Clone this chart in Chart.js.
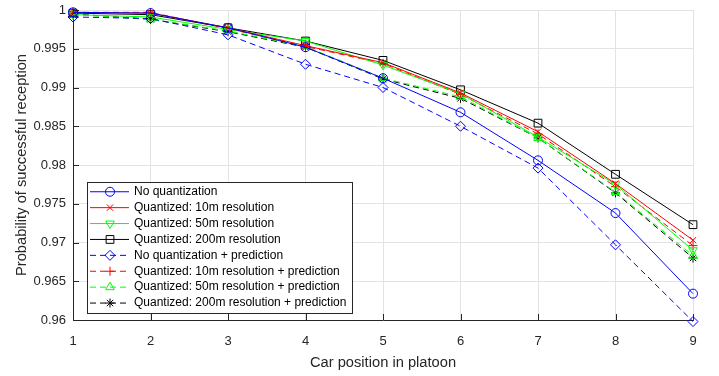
<!DOCTYPE html>
<html>
<head>
<meta charset="utf-8">
<script src="https://cdn.jsdelivr.net/npm/chart.js@4.4.1/dist/chart.umd.min.js"></script>
<style>
  html, body { margin: 0; padding: 0; background: #fff; }
  #wrap { width: 719px; height: 376px; }
</style>
</head>
<body>
<div id="wrap"><canvas id="lineChart"></canvas></div>
<script>
// car position in platoon
var positions = [1, 2, 3, 4, 5, 6, 7, 8, 9];

// probability of successful reception
var noQuant      = [0.9997, 0.9996, 0.9977, 0.9952, 0.9912, 0.9868, 0.9806, 0.9738, 0.9634];
var quant10      = [0.9997, 0.9996, 0.9977, 0.9954, 0.9932, 0.9893, 0.9843, 0.9776, 0.9703];
var quant50      = [0.9994, 0.9991, 0.9975, 0.9960, 0.9929, 0.9892, 0.9836, 0.9775, 0.9690];
var quant200     = [0.9996, 0.9994, 0.9977, 0.9960, 0.9935, 0.9897, 0.9854, 0.9788, 0.9723];
var noQuantPred  = [0.9991, 0.9989, 0.9968, 0.9930, 0.9900, 0.9850, 0.9796, 0.9697, 0.9598];
var quant10Pred  = [0.9997, 0.9997, 0.9976, 0.9953, 0.9931, 0.9891, 0.9840, 0.9772, 0.9696];
var quant50Pred  = [0.9994, 0.9988, 0.9973, 0.9953, 0.9912, 0.9888, 0.9835, 0.9765, 0.9683];
var quant200Pred = [0.9995, 0.9988, 0.9972, 0.9952, 0.9911, 0.9886, 0.9835, 0.9764, 0.9680];

var xTicks = [1, 2, 3, 4, 5, 6, 7, 8, 9];
var yTicks = [0.96, 0.965, 0.97, 0.975, 0.98, 0.985, 0.99, 0.995, 1];

var FONT = '"Liberation Sans", Arial, Helvetica, sans-serif';
var AXIS = '#262626';

function pts(values){
    return values.map(function(v, i){ return {x: positions[i], y: v}; });
}

function series(label, values, color, style, radius, dashed, rotation){
    return {
        label: label,
        data: pts(values),
        borderColor: color,
        backgroundColor: 'rgba(0,0,0,0)',
        borderWidth: 1,
        borderDash: dashed ? [6, 4] : [],
        pointStyle: style,
        pointRadius: radius,
        pointHoverRadius: radius,
        pointRotation: rotation || 0,
        pointBorderColor: color,
        pointBackgroundColor: 'rgba(0,0,0,0)',
        pointBorderWidth: 1,
        tension: 0,
        clip: false
    };
}

// legend drawn inside the plot, bottom left, matlab style
var legendBox = {
    id: 'legendBox',
    afterDatasetsDraw: function(chart){
        var ctx = chart.ctx, area = chart.chartArea;
        var sets = chart.data.datasets;
        var rowH = 15.9;
        ctx.save();
        ctx.font = '12px ' + FONT;
        var textW = 0;
        sets.forEach(function(d){ textW = Math.max(textW, ctx.measureText(d.label).width); });
        var h = sets.length * rowH + 4;
        var w = 47 + textW + 6;
        var x0 = area.left + 14;
        var y0 = area.bottom - 7 - h;
        ctx.fillStyle = '#fff';
        ctx.fillRect(x0, y0, w, h);
        ctx.strokeStyle = AXIS;
        ctx.lineWidth = 1;
        ctx.strokeRect(Math.round(x0) + 0.5, Math.round(y0) + 0.5, Math.round(w), Math.round(h));
        sets.forEach(function(d, i){
            var cy = y0 + 2 + rowH * (i + 0.5);
            ctx.save();
            ctx.strokeStyle = d.borderColor;
            ctx.lineWidth = 1;
            ctx.setLineDash(d.borderDash);
            ctx.beginPath();
            ctx.moveTo(x0 + 3, cy);
            ctx.lineTo(x0 + 42, cy);
            ctx.stroke();
            ctx.setLineDash([]);
            ctx.fillStyle = 'rgba(0,0,0,0)';
            Chart.helpers.drawPoint(ctx, {
                pointStyle: d.pointStyle,
                radius: d.pointRadius,
                rotation: d.pointRotation,
                borderWidth: 1
            }, x0 + 23, cy);
            ctx.restore();
            ctx.fillStyle = '#000';
            ctx.textBaseline = 'middle';
            ctx.textAlign = 'left';
            ctx.fillText(d.label, x0 + 47, cy);
        });
        ctx.restore();
    }
};

// inward tick marks like the original
var innerTicks = {
    id: 'innerTicks',
    afterDraw: function(chart){
        var ctx = chart.ctx, area = chart.chartArea;
        var xs = chart.scales.x, ys = chart.scales.y;
        ctx.save();
        ctx.strokeStyle = AXIS;
        ctx.lineWidth = 1;
        ctx.beginPath();
        xTicks.forEach(function(t){
            var px = Math.round(xs.getPixelForValue(t)) + 0.5;
            ctx.moveTo(px, area.bottom);
            ctx.lineTo(px, area.bottom - 6);
        });
        yTicks.forEach(function(t){
            var py = Math.round(ys.getPixelForValue(t)) + 0.5;
            ctx.moveTo(area.left, py);
            ctx.lineTo(area.left + 6, py);
        });
        ctx.stroke();
        ctx.restore();
    }
};

var ctxL = document.getElementById('lineChart').getContext('2d');
var myChart = new Chart(ctxL, {
    type: 'line',
    data: {
        datasets: [
            series('No quantization', noQuant, '#0000ff', 'circle', 4.5, false),
            series('Quantized: 10m resolution', quant10, '#ff0000', 'crossRot', 4.5, false),
            series('Quantized: 50m resolution', quant50, '#00ff00', 'triangle', 5, false, 180),
            series('Quantized: 200m resolution', quant200, '#000000', 'rect', 5.5, false),
            series('No quantization + prediction', noQuantPred, '#0000ff', 'rectRot', 5, true),
            series('Quantized: 10m resolution + prediction', quant10Pred, '#ff0000', 'cross', 4.5, true),
            series('Quantized: 50m resolution + prediction', quant50Pred, '#00ff00', 'triangle', 5, true),
            series('Quantized: 200m resolution + prediction', quant200Pred, '#000000', 'star', 4.5, true)
        ]
    },
    options: {
        responsive: true,
        maintainAspectRatio: false,
        animation: false,
        layout: { padding: { top: 10, right: 26, left: 0, bottom: 0 } },
        plugins: {
            legend: { display: false },
            tooltip: { enabled: false }
        },
        scales: {
            x: {
                type: 'linear',
                min: 1, max: 9,
                afterBuildTicks: function(s){ s.ticks = xTicks.map(function(v){ return {value: v}; }); },
                afterFit: function(s){ s.height = 56; s.paddingLeft = 0; s.paddingRight = 0; },
                grid: { color: '#e3e3e3', drawTicks: false },
                border: { color: AXIS, width: 1 },
                ticks: { color: AXIS, font: { family: FONT, size: 13 }, padding: 14, maxRotation: 0 },
                title: { display: true, text: 'Car position in platoon', color: AXIS,
                         font: { family: FONT, size: 14.7 }, padding: { top: 0, bottom: 4 } }
            },
            y: {
                min: 0.96, max: 1,
                afterBuildTicks: function(s){ s.ticks = yTicks.map(function(v){ return {value: v}; }); },
                afterFit: function(s){ s.width = 73; s.paddingTop = 0; s.paddingBottom = 0; },
                grid: { color: '#e3e3e3', drawTicks: false },
                border: { color: AXIS, width: 1 },
                ticks: {
                    color: AXIS, font: { family: FONT, size: 13 }, padding: 7,
                    callback: function(v){ return String(Number(v.toFixed(3))); }
                },
                title: { display: true, text: 'Probability of successful reception', color: AXIS,
                         font: { family: FONT, size: 14.7 }, padding: { top: 13, bottom: 0 } }
            }
        }
    },
    plugins: [legendBox, innerTicks]
});
</script>
</body>
</html>
